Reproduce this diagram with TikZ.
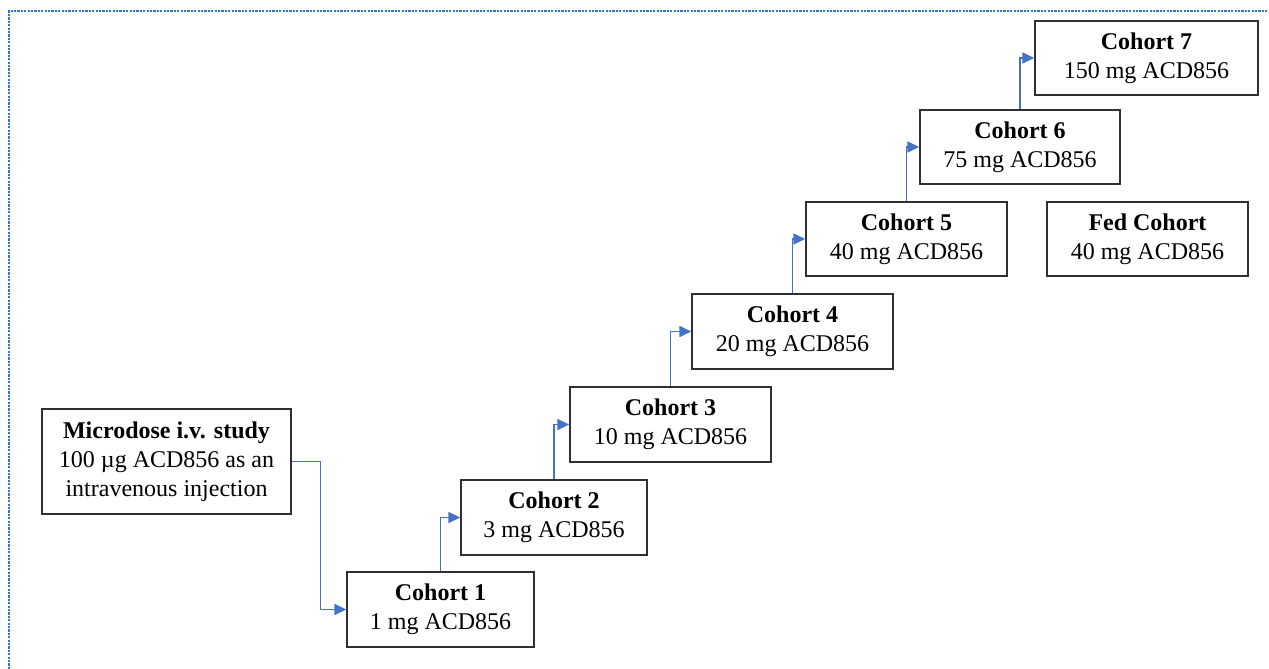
\documentclass[tikz,border=0pt]{standalone}
\usepackage{fontspec}
\setmainfont{Liberation Serif}
\usetikzlibrary{arrows.meta}
\definecolor{arrblue}{HTML}{4472C4}
\definecolor{frameblue}{HTML}{2A7AC8}
\definecolor{boxline}{HTML}{303030}
\begin{document}
\begin{tikzpicture}[x=1pt,y=-1pt,
  cbox/.style={draw=boxline,line width=1.4pt,align=center,inner sep=0pt,
    font=\fontsize{24}{29}\selectfont},
  arr/.style={draw=arrblue,line width=1.5pt,-{Triangle[length=12pt,width=11pt]}}]
\useasboundingbox (0,0) rectangle (1269,669);
\draw[frameblue,line width=2.4pt,dash pattern=on 2.2pt off 1.2pt] (9,669) -- (9,11) -- (1269,11);
\node[cbox,minimum width=249pt,minimum height=105pt] (mic) at (166.5,461.5)
  {\textbf{Microdose i.v. study}\\100 µg ACD856 as an\\intravenous injection};
\node[cbox,minimum width=187pt,minimum height=75pt] (c1) at (440.5,609.5) {\textbf{Cohort 1}\\1 mg ACD856};
\node[cbox,minimum width=186pt,minimum height=75pt] (c2) at (554,517.5) {\textbf{Cohort 2}\\3 mg ACD856};
\node[cbox,minimum width=201pt,minimum height=75pt] (c3) at (670.5,424.5) {\textbf{Cohort 3}\\10 mg ACD856};
\node[cbox,minimum width=201pt,minimum height=75pt] (c4) at (792.5,331.5) {\textbf{Cohort 4}\\20 mg ACD856};
\node[cbox,minimum width=201pt,minimum height=74pt] (c5) at (906.5,239) {\textbf{Cohort 5}\\40 mg ACD856};
\node[cbox,minimum width=200pt,minimum height=74pt] (c6) at (1020,147) {\textbf{Cohort 6}\\75 mg ACD856};
\node[cbox,minimum width=223pt,minimum height=74pt] (c7) at (1146.5,58) {\textbf{Cohort 7}\\150 mg ACD856};
\node[cbox,minimum width=201pt,minimum height=74pt] (fed) at (1147.5,239) {\textbf{Fed Cohort}\\40 mg ACD856};
\draw[arr] (mic.east) -- ++(29,0) |- (c1.west);
\draw[arr] (c1.north) |- (c2.west);
\draw[arr] (c2.north) |- (c3.west);
\draw[arr] (c3.north) |- (c4.west);
\draw[arr] (c4.north) |- (c5.west);
\draw[arr] (c5.north) |- (c6.west);
\draw[arr] (c6.north) |- (c7.west);
\end{tikzpicture}
\end{document}
